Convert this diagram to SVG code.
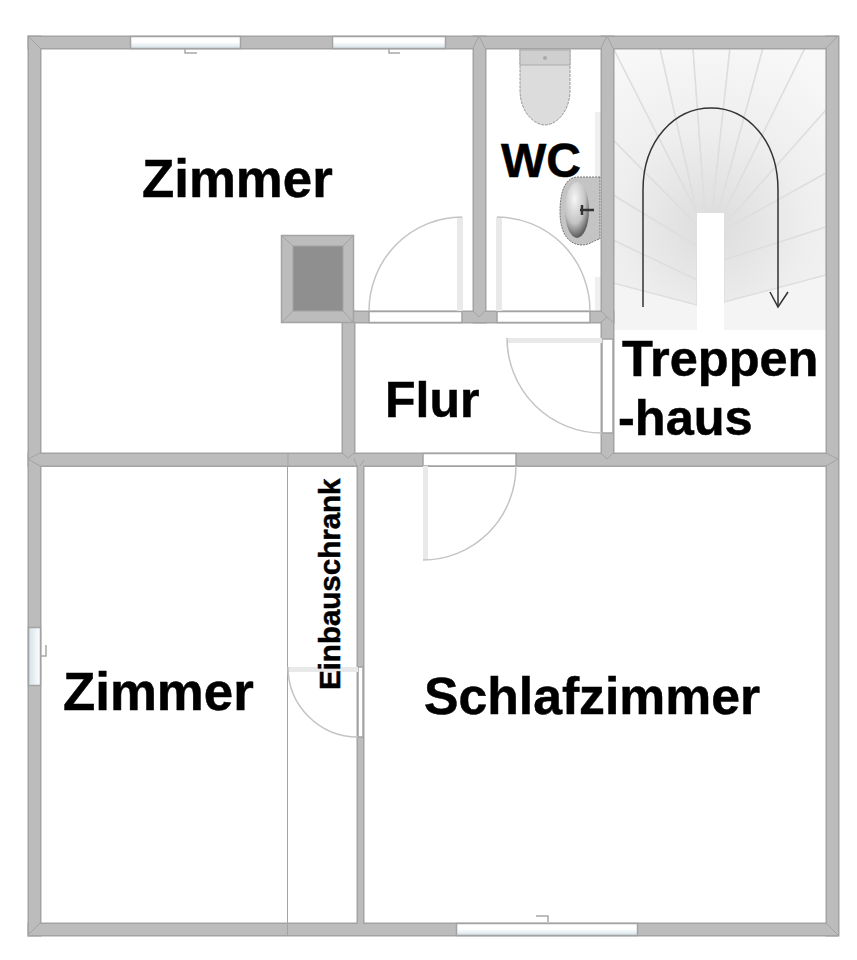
<svg xmlns="http://www.w3.org/2000/svg" width="857" height="960" viewBox="0 0 857 960">
<style>
.wo{fill:#a3a3a3;stroke:#a3a3a3;stroke-width:3}
.wf{fill:#bcbcbc;stroke:none}
.w{fill:#bcbcbc;stroke:#a3a3a3;stroke-width:1.5}
.m{fill:none;stroke:#a3a3a3;stroke-width:1}
.o{fill:#fff;stroke:#a3a3a3;stroke-width:1.5}
.g{fill:url(#glass);stroke:#a3a3a3;stroke-width:1.5}
.gv{fill:url(#glassv);stroke:#a3a3a3;stroke-width:1.5}
.leaf{fill:#e9e9e9;stroke:none}
.arc{fill:none;stroke:#c4c4c4;stroke-width:1.5}
.h{fill:none;stroke:#a8a8a8;stroke-width:1.5}
.t{font-family:"Liberation Sans",Arial,sans-serif;font-weight:700;fill:#000;stroke:#000;stroke-width:.5}
.s{fill:url(#st);stroke:#dedede;stroke-width:1.5}
</style>
<defs>
<g id="wallshape">
<rect x="29" y="37" width="808" height="11"/>
<rect x="29" y="924" width="808" height="11"/>
<rect x="29" y="37" width="11" height="898"/>
<rect x="827" y="37" width="11" height="898"/>
<rect x="474" y="37" width="11" height="285"/>
<rect x="602" y="37" width="11" height="423"/>
<rect x="343" y="312" width="270" height="10"/>
<rect x="343" y="312" width="11" height="146"/>
<rect x="29" y="454" width="808" height="11.500"/>
<rect x="358" y="460" width="5" height="470"/>
</g>
<linearGradient id="glass" x1="0" y1="0" x2="0" y2="1"><stop offset="0" stop-color="#fff"/><stop offset=".45" stop-color="#fff"/><stop offset="1" stop-color="#d3e2e8"/></linearGradient>
<linearGradient id="glassv" x1="0" y1="0" x2="1" y2="0"><stop offset="0" stop-color="#d3e2e8"/><stop offset="1" stop-color="#fff"/></linearGradient>
<radialGradient id="st" gradientUnits="userSpaceOnUse" cx="711" cy="225" r="190"><stop offset="0" stop-color="#dcdcdc"/><stop offset=".5" stop-color="#eeeeee"/><stop offset="1" stop-color="#f8f8f8"/></radialGradient>
<radialGradient id="sink" cx=".4" cy=".3" r=".8"><stop offset="0" stop-color="#f6f6f6"/><stop offset=".55" stop-color="#c4c4c4"/><stop offset="1" stop-color="#333"/></radialGradient>
</defs>
<rect width="857" height="960" fill="#fff"/>

<g id="stairs">
<rect x="613" y="48" width="213" height="282" fill="#f4f4f4"/>
<polygon class="s" points="613,48 660,48 697,213"/>
<polygon class="s" points="660,48 693,48 705,213 697,213"/>
<polygon class="s" points="693,48 730,48 712,213 705,213"/>
<polygon class="s" points="730,48 763,48 718,213 712,213"/>
<polygon class="s" points="763,48 805,48 724,213 718,213"/>
<polygon class="s" points="805,48 826,48 826,110 724,225 724,213"/>
<polygon class="s" points="826,110 826,173 724,230 724,225"/>
<polygon class="s" points="826,173 826,227 724,260 724,230"/>
<polygon class="s" points="826,227 826,275 724,302 724,260"/>
<polygon class="s" points="613,48 697,213 697,225 613,140"/>
<polygon class="s" points="613,140 697,225 697,246 613,195"/>
<polygon class="s" points="613,195 697,246 697,280 613,240"/>
<polygon class="s" points="613,240 697,280 697,305 613,283"/>
<rect x="697" y="213" width="27" height="117" fill="#fff"/>
<path d="M643 307V190C643 140 675 108 711 108C747 108 778 140 778 190V307" fill="none" stroke="#333" stroke-width="1.500"/>
<path d="M770 292L778 307L788 292" fill="none" stroke="#333" stroke-width="1.500"/>
</g>

<g id="fixtures">
<rect x="595" y="112" width="6" height="65" fill="#efefef"/>
<rect x="595" y="277" width="6" height="34" fill="#efefef"/>
<path d="M520 48H570V90C570 112 556 125 545 125C534 125 520 112 520 90Z" fill="#dcdcdc" stroke="#999" stroke-width="1" stroke-dasharray="3 1"/>
<rect x="520" y="50" width="50" height="15" fill="#cfcfcf" stroke="#aaa" stroke-width="1"/>
<circle cx="545" cy="58" r="2" fill="#aaa"/>
<path d="M600 177H578C566 177 560 190 560 212C560 235 570 245 582 245C590 245 594 240 600 239Z" fill="#c4c4c4" stroke="#777" stroke-width="1" stroke-dasharray="2 1"/>
<ellipse cx="577" cy="210" rx="12" ry="28" fill="url(#sink)"/>
<path d="M580 210H594M582 205V215" stroke="#333" stroke-width="2.500" fill="none"/>
</g>

<g id="walls">
<use href="#wallshape" class="wo"/>
<use href="#wallshape" class="wf"/>
<path class="m" d="M287.500 466V935"/>
<path class="m" d="M28 36L40 48M838 36L826 48M28 935L40 923M838 935L826 923M28 459L40 453M28 459L40 466M838 459L826 453M838 459L826 466M479 36L473 48M479 36L485 48M607 36L601 48M607 36L613 48M354 453L348 458L342 453M360 466L364 460M354 458L357 466M601 453L607 459L613 453M354 322L348 317L343 311M473 311L479 317L485 311M601 322L607 317L613 322M601 311L607 317M288 453V466"/>
</g>

<g id="chimney">
<rect class="w" x="281.500" y="235.500" width="72" height="87"/>
<rect x="293" y="246" width="50" height="65" fill="#8f8f8f" stroke="#a3a3a3"/>
<path class="m" d="M281.500 235.500L293 246M353.500 235.500L343 246M281.500 322.500L293 311M353.500 322.500L343 311"/>
</g>

<g id="windows">
<rect class="g" x="130.500" y="36.500" width="110" height="12"/>
<rect class="g" x="332.500" y="36.500" width="113" height="12"/>
<rect class="g" x="456.500" y="923.500" width="181" height="12"/>
<rect class="gv" x="28.500" y="627.500" width="12" height="58"/>
<path class="h" d="M185 49V53H197M389 49V53H400M548 922V916H536M41 656H46V645"/>
</g>

<g id="doors">
<rect class="o" x="369" y="311.500" width="93" height="11"/>
<rect class="o" x="497" y="311.500" width="93" height="11"/>
<rect class="o" x="602" y="339" width="11" height="94"/>
<rect class="o" x="423" y="453.500" width="93" height="12.500"/>
<rect class="o" x="358" y="667" width="5" height="70"/>
<rect class="leaf" x="457" y="217" width="6" height="94"/>
<rect class="leaf" x="496" y="217" width="6" height="94"/>
<rect class="leaf" x="507" y="338" width="95" height="5"/>
<rect class="leaf" x="423" y="466" width="5" height="94"/>
<rect class="leaf" x="288" y="667" width="70" height="5"/>
<path class="arc" d="M369 311A93 94 0 0 1 462 217"/>
<path class="arc" d="M497 217A93 94 0 0 1 590 311"/>
<path class="arc" d="M507 338A95 95 0 0 0 602 433"/>
<path class="arc" d="M516 466A93 94 0 0 1 423 560"/>
<path class="arc" d="M288 667A70 70 0 0 0 358 737"/>
</g>

<g id="labels">
<text class="t" x="142" y="197" font-size="52.800">Zimmer</text>
<text class="t" x="501" y="177" font-size="48">WC</text>
<text class="t" x="385" y="417" font-size="50">Flur</text>
<text class="t" x="622" y="376" font-size="50.500">Treppen</text>
<text class="t" x="618" y="435" font-size="50.500">-haus</text>
<text class="t" x="63" y="710" font-size="52.800">Zimmer</text>
<text class="t" x="424" y="714" font-size="51.700">Schlafzimmer</text>
<text class="t" transform="translate(340 690) rotate(-90)" font-size="29.500">Einbauschrank</text>
</g>
</svg>
